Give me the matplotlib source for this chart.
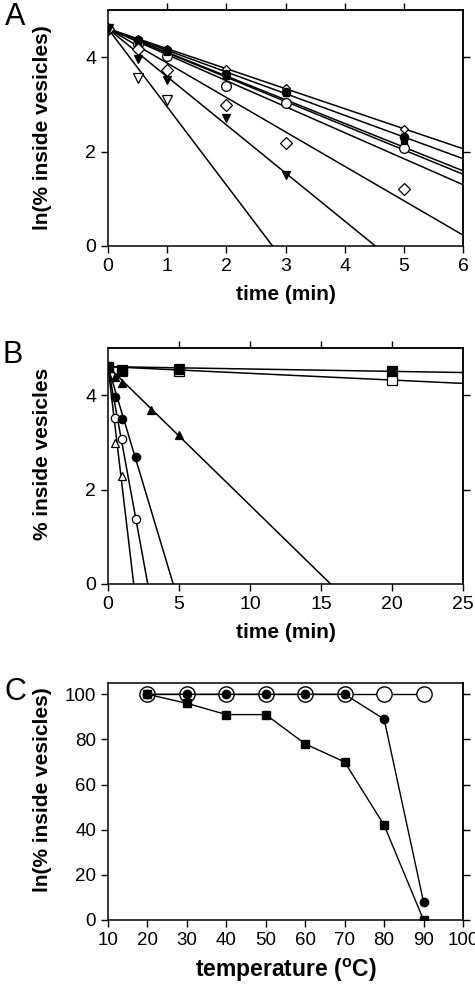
import numpy as np
import matplotlib
matplotlib.use("Agg")
import matplotlib.pyplot as plt

plt.rcParams.update({
    'font.family': ['Liberation Sans', 'DejaVu Sans'],
    'font.size': 14,
    'axes.linewidth': 1.1,
    'xtick.direction': 'out',
    'ytick.direction': 'out',
    'xtick.major.size': 5,
    'ytick.major.size': 5,
    'xtick.major.width': 1.0,
    'ytick.major.width': 1.0,
})

Y0 = 4.605  # ln(100)

# =====================================================
# Panel A data (time in min, ln % inside)
# =====================================================
a_times = [0, 0.5, 1, 2, 3, 5]
a_series = [
    # (marker, filled, size, values, fitted slope)
    ("D", False, 4, [4.605, 4.38, 4.17, 3.76, 3.35, 2.48], -0.424),
    ("o", True, 6, [4.605, 4.37, 4.15, 3.65, 3.27, 2.30], -0.459),
    ("^", True, 5, [4.605, 4.35, 4.12, 3.62, 3.24, 2.20], -0.502),
    ("o", False, 7, [4.605, 4.28, 4.02, 3.40, 3.03, 2.08], -0.514),
    ("s", True, 4, [4.605, 4.33, 4.10, 3.60, 3.25, 2.22], -0.551),
    ("D", False, 6, [4.605, 4.18, 3.73, 2.99, 2.19, 1.20], -0.729),
]
a_otri_times = [0, 0.5, 1]
a_otri_series = [
    ("v", False, 7, [4.605, 3.55, 3.10], -1.656),
]
a_tri_times = [0, 0.5, 1, 2, 3]
a_tri_series = [
    ("v", True, 6, [4.605, 3.97, 3.52, 2.72, 1.50], -1.019),
]

# =====================================================
# Panel B data
# =====================================================
b_sq_times = [0, 1, 5, 20]
b_sq_filled = [4.605, 4.53, 4.55, 4.52]
b_sq_open = [4.605, 4.52, 4.51, 4.33]
b_sq_slopes = [-0.005, -0.0142]
b_tri_times = [0, 0.5, 1, 3, 5]
b_tri_filled = [4.605, 4.38, 4.25, 3.68, 3.15]
b_fast_times = [0, 0.5, 1, 2]
b_circ_filled = [4.605, 3.96, 3.49, 2.69]
b_circ_open = [4.605, 3.52, 3.08, 1.38]
b_otri_times = [0, 0.5, 1]
b_otri_open = [4.605, 2.99, 2.29]
b_slopes = {"tri": -0.2937, "cf": -1.003, "co": -1.645, "to": -2.544}

# =====================================================
# Panel C data
# =====================================================
temps = [20, 30, 40, 50, 60, 70, 80, 90]
c_open = [100, 100, 100, 100, 100, 100, 100, 100]
c_circle = [100, 100, 100, 100, 100, 100, 89, 8]
c_square = [100, 96, 91, 91, 78, 70, 42, 0]

fig = plt.figure(figsize=(4.75, 9.86), dpi=100)
W, H = 475, 986


def make_ax(top, bottom):
    return fig.add_axes([108 / W, 1 - bottom / H, 355 / W, (bottom - top) / H])


def style_top_right(ax, top_ticks, right_ticks):
    sec_x = ax.secondary_xaxis('top')
    sec_x.set_xticks(top_ticks)
    sec_x.set_xticklabels([])
    sec_x.tick_params(length=5, width=1.0)
    sec_y = ax.secondary_yaxis('right')
    sec_y.set_yticks(right_ticks)
    sec_y.set_yticklabels([])
    sec_y.tick_params(length=5, width=1.0)


def fit_line(ax, slope, xmax):
    xs = np.array([0, xmax])
    ax.plot(xs, Y0 + slope * xs, color="black", lw=1.1, zorder=2)


def pts(ax, x, y, marker, filled, size):
    ax.plot(x, y, ls="none", marker=marker, ms=size,
            mfc="black" if filled else "white", mec="black", mew=0.9, zorder=3)


# ---------------- Panel A ----------------
axA = make_ax(10, 246)
for m, f, s, vals, k in a_series + a_otri_series + a_tri_series:
    fit_line(axA, k, 6)
for m, f, s, vals, k in a_series:
    pts(axA, a_times, vals, m, f, s)
for m, f, s, vals, k in a_otri_series:
    pts(axA, a_otri_times, vals, m, f, s)
for m, f, s, vals, k in a_tri_series:
    pts(axA, a_tri_times, vals, m, f, s)
axA.set_xlim(0, 6)
axA.set_ylim(0, 5)
axA.set_xticks([0, 1, 2, 3, 4, 5, 6])
axA.set_yticks([0, 2, 4])
style_top_right(axA, [1, 2, 3, 4, 5], [2, 4])
axA.set_xlabel("time (min)", fontsize=15, fontweight="bold", labelpad=7)
axA.set_ylabel("ln(% inside vesicles)", fontsize=15, fontweight="bold")
axA.yaxis.set_label_coords(-0.158, 0.5)

# ---------------- Panel B ----------------
axB = make_ax(348, 584)
for k in b_sq_slopes:
    fit_line(axB, k, 25)
for key in ["tri", "cf", "co", "to"]:
    fit_line(axB, b_slopes[key], 25)
pts(axB, b_otri_times, b_otri_open, "^", False, 6)
pts(axB, b_fast_times, b_circ_open, "o", False, 6)
pts(axB, b_fast_times, b_circ_filled, "o", True, 6)
pts(axB, b_tri_times, b_tri_filled, "^", True, 6)
pts(axB, b_sq_times, b_sq_open, "s", False, 7)
pts(axB, b_sq_times, b_sq_filled, "s", True, 7)
axB.set_xlim(0, 25)
axB.set_ylim(0, 5)
axB.set_xticks([0, 5, 10, 15, 20, 25])
axB.set_yticks([0, 2, 4])
style_top_right(axB, [5, 10, 15, 20], [2, 4])
axB.set_xlabel("time (min)", fontsize=15, fontweight="bold", labelpad=7)
axB.set_ylabel("% inside vesicles", fontsize=15, fontweight="bold")
axB.yaxis.set_label_coords(-0.158, 0.55)

# ---------------- Panel C ----------------
axC = make_ax(683, 920)
axC.plot(temps, c_open, color="black", lw=1.0, marker="o", ms=11,
         mfc="white", mec="black", mew=1.0, zorder=2)
axC.plot(temps, c_square, color="black", lw=1.0, marker="s", ms=6,
         mfc="black", mec="black", zorder=3)
axC.plot(temps, c_circle, color="black", lw=1.0, marker="o", ms=6,
         mfc="black", mec="black", zorder=4)
axC.set_xlim(10, 100)
axC.set_ylim(0, 105)
axC.set_xticks(np.arange(10, 101, 10))
axC.set_yticks(np.arange(0, 101, 20))
sec = axC.secondary_yaxis('right')
sec.set_yticks(np.arange(0, 101, 20))
sec.set_yticklabels([])
sec.tick_params(length=5, width=1.0)
axC.set_xlabel("temperature ($\\mathregular{^{o}}$C)", fontsize=16.5,
               fontweight="bold", labelpad=6)
axC.set_ylabel("ln(% inside vesicles)", fontsize=15, fontweight="bold")
axC.yaxis.set_label_coords(-0.158, 0.55)

for ax in (axA, axB):
    ax.tick_params(labelsize=14)
axC.tick_params(labelsize=13.5)

fig.text(15 / W, 1 - 17 / H, "A", fontsize=22, ha="center", va="center")
fig.text(13 / W, 1 - 355 / H, "B", fontsize=22, ha="center", va="center")
fig.text(15 / W, 1 - 692 / H, "C", fontsize=22, ha="center", va="center")

fig.savefig("out.png", dpi=100)
